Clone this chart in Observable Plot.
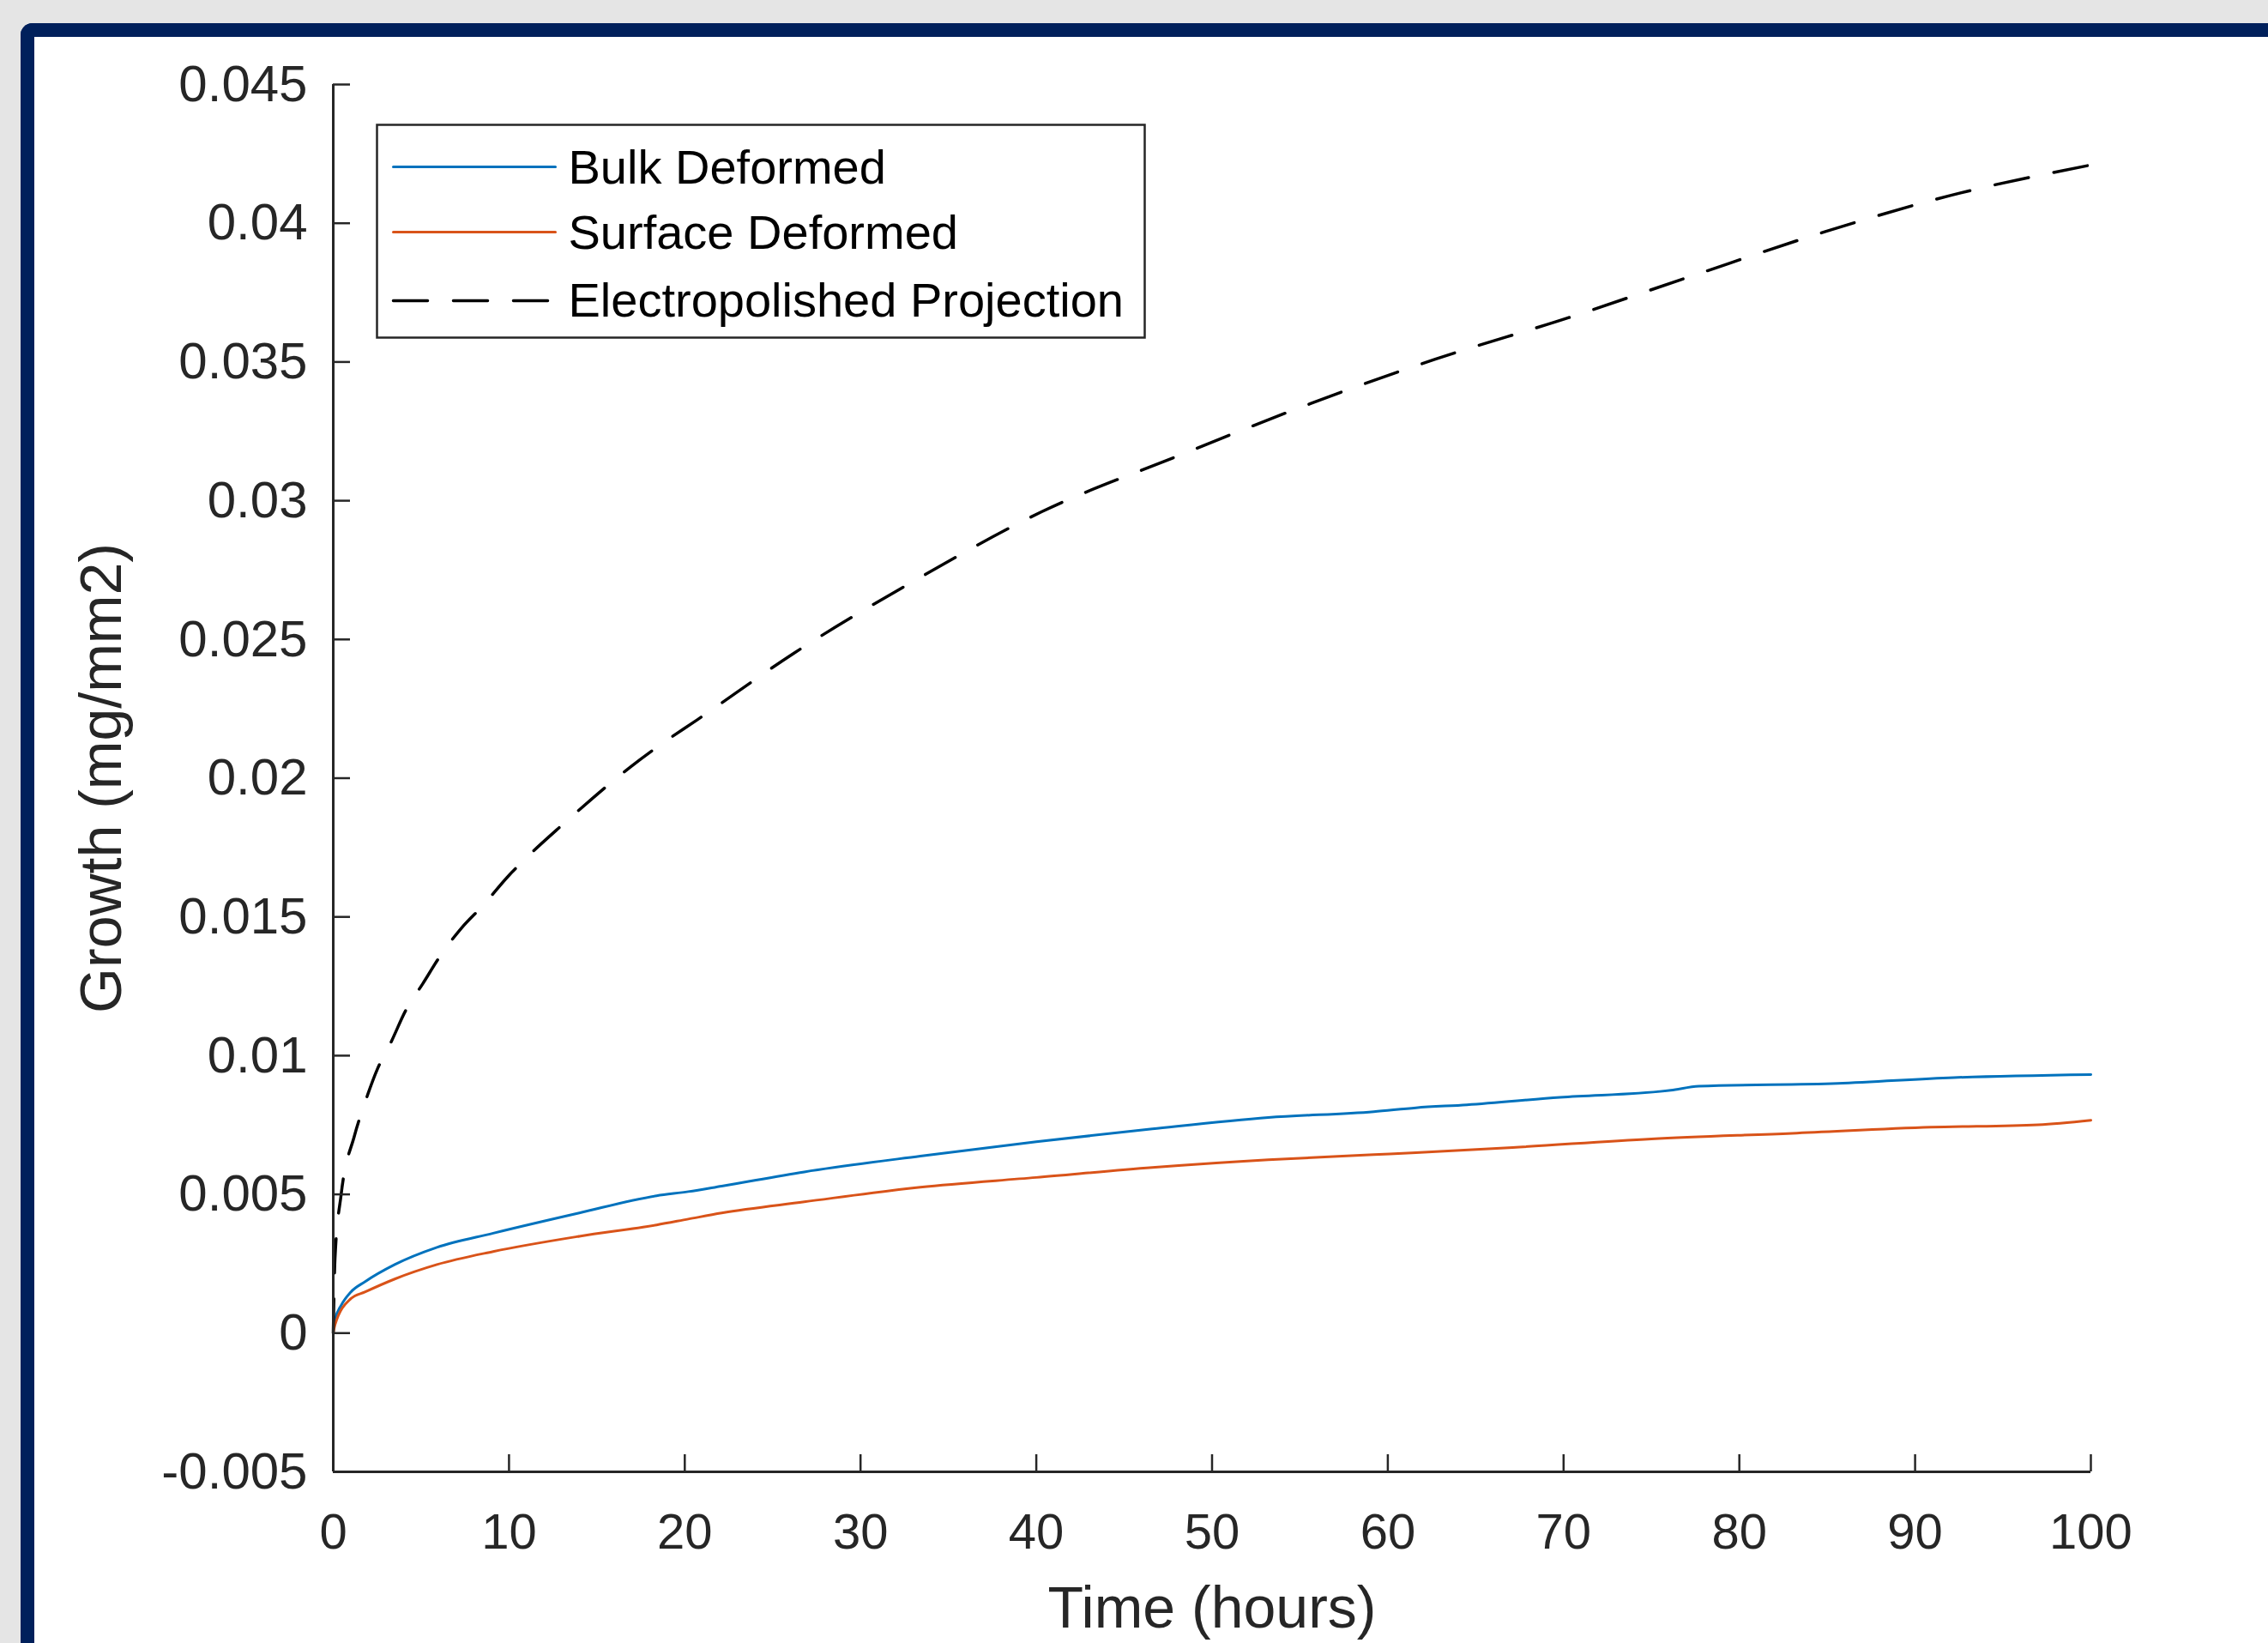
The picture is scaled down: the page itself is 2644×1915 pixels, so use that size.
<!DOCTYPE html>
<html>
<head>
<meta charset="utf-8">
<script src="https://cdn.jsdelivr.net/npm/d3@7"></script>
<script src="https://cdn.jsdelivr.net/npm/@observablehq/plot@0.6"></script>
<style>
html, body { margin: 0; padding: 0; background: #e5e5e5; width: 2644px; height: 1915px; overflow: hidden; }
#frame { position: absolute; left: 24px; top: 27px; width: 2700px; height: 2000px;
  border-left: 16px solid #00205b; border-top: 16px solid #00205b; border-top-left-radius: 14px; background: #fff; }
#chart { position: absolute; left: 40px; top: 43px; }
</style>
</head>
<body>
<div id="frame"></div>
<div id="chart"></div>
<script>
// ---- data ----
const seriesNames = ["Bulk Deformed", "Surface Deformed", "Electropolished Projection"];
const seriesColors = ["#0072BD", "#D95319", "#000000"];
const seriesDash = [null, null, "40,30"];

const bulkTime   = [0, 0.1, 0.45, 1.0, 1.8, 3.5, 5.9, 9.1, 14, 18.4, 20.2, 22.1, 26.8, 33.4, 40, 46.6, 53.2, 59.2, 61.6, 64.5, 69.8, 76.1, 77.7, 85.6, 92.2, 100];
const bulkGrowth = [0.0002, 0.0005, 0.0010, 0.00148, 0.00185, 0.00247, 0.00309, 0.0036, 0.00433, 0.00495, 0.0051, 0.0053, 0.00581, 0.00638, 0.0069, 0.00736, 0.00777, 0.00798, 0.00812, 0.00823, 0.0085, 0.00875, 0.0089, 0.009, 0.00921, 0.00932];

const surfaceTime   = [0, 0.1, 1.0, 1.8, 3.5, 5.9, 9.1, 14, 18.4, 20.2, 22.1, 26.8, 33.4, 40, 46.6, 53.2, 59.2, 61.6, 67.1, 75, 83, 90.9, 97, 100];
const surfaceGrowth = [0, 0.0003, 0.00124, 0.00148, 0.00195, 0.00247, 0.00294, 0.00349, 0.0039, 0.00411, 0.00433, 0.00473, 0.00526, 0.00561, 0.00597, 0.00625, 0.00643, 0.0065, 0.00669, 0.007, 0.0072, 0.00742, 0.00751, 0.00767];

const polishedTime   = [0, 0.1, 0.45, 1.2, 1.8, 2.5, 3.3, 4.1, 5.1, 6.2, 7.3, 8.5, 10, 11.1, 13, 14.8, 16.9, 18.6, 20.7, 26.2, 33.3, 40.3, 48, 55.6, 62.7, 70.3, 77.3, 84.9, 92, 100];
const polishedGrowth = [0, 0.0027, 0.0050, 0.0071, 0.0083, 0.0095, 0.0105, 0.0116, 0.0126, 0.0137, 0.0146, 0.0154, 0.0165, 0.0172, 0.0183, 0.0193, 0.0204, 0.0212, 0.0221, 0.0245, 0.0272, 0.0296, 0.0316, 0.0335, 0.0351, 0.0366, 0.0381, 0.0397, 0.0410, 0.0421];

const xTicks = [0, 10, 20, 30, 40, 50, 60, 70, 80, 90, 100];
const xTickLabels = ["0", "10", "20", "30", "40", "50", "60", "70", "80", "90", "100"];
const yTicks = [-0.005, 0, 0.005, 0.01, 0.015, 0.02, 0.025, 0.03, 0.035, 0.04, 0.045];
const yTickLabels = ["-0.005", "0", "0.005", "0.01", "0.015", "0.02", "0.025", "0.03", "0.035", "0.04", "0.045"];
const xLabel = "Time (hours)";
const yLabel = "Growth (mg/mm2)";

// ---- build tables ----
const toRows = (T, V) => T.map((t, i) => ({t, v: V[i]}));
const seriesData = [toRows(bulkTime, bulkGrowth), toRows(surfaceTime, surfaceGrowth), toRows(polishedTime, polishedGrowth)];

// ---- layout ----
const W = 2604, H = 1872;
const mL = 348, mT = 55, mR = 207, mB = 200;
const plotW = W - mL - mR, plotH = H - mT - mB;
const tickLen = 20;
const ink = "#262626";
const lab = (ticks, labels) => d => { const i = ticks.findIndex(t => Math.abs(t - d) < 1e-9); return i < 0 ? "" : labels[i]; };

const lineShape = { draw(context, l) { context.moveTo(0, 0); context.lineTo(0, -l); } };
const legendLineY = [96, 172, 252];
const legendTextY = [98, 174, 253];

const legendMarks = [
  Plot.frame({fill: "white", stroke: ink, strokeWidth: 2.5,
    insetLeft: 51, insetTop: 47, insetRight: plotW - 946, insetBottom: plotH - 295})
];
seriesNames.forEach((name, i) => {
  legendMarks.push(Plot.vector([name], {frameAnchor: "top-left", dx: 70, dy: legendLineY[i],
    length: 189, rotate: 90, anchor: "start", shape: lineShape,
    stroke: seriesColors[i], strokeWidth: i === 2 ? 3.5 : 3, strokeDasharray: seriesDash[i] ?? undefined}));
  legendMarks.push(Plot.text([name], {frameAnchor: "top-left", dx: 274, dy: legendTextY[i],
    text: d => d, textAnchor: "start", lineAnchor: "middle", fontSize: 56, fill: "#000"}));
});

const chart = Plot.plot({
  width: W, height: H,
  marginLeft: mL, marginTop: mT, marginRight: mR, marginBottom: mB,
  x: {domain: [0, 100], label: null},
  y: {domain: [-0.005, 0.045], label: null},
  style: {background: "transparent", color: ink, fontFamily: '"Liberation Sans", Arial, Helvetica, sans-serif', overflow: "visible"},
  marks: [
    ...seriesData.map((data, i) => Plot.line(data, {x: "t", y: "v", stroke: seriesColors[i],
      strokeWidth: i === 2 ? 3.5 : 3, strokeDasharray: seriesDash[i] ?? undefined, curve: "monotone-x"})),
    Plot.ruleX([0], {stroke: ink, strokeWidth: 3}),
    Plot.ruleY([-0.005], {stroke: ink, strokeWidth: 3}),
    Plot.tickX(xTicks, {x: d => d, stroke: ink, strokeWidth: 2.5, insetTop: plotH - tickLen}),
    Plot.tickY(yTicks, {y: d => d, stroke: ink, strokeWidth: 2.5, insetRight: plotW - tickLen}),
    Plot.axisX({ticks: xTicks, tickSize: 0, tickPadding: 48, fontSize: 58, tickFormat: lab(xTicks, xTickLabels), label: null}),
    Plot.axisY({ticks: yTicks, tickSize: 0, tickPadding: 30, fontSize: 60, tickFormat: lab(yTicks, yTickLabels), label: null}),
    Plot.text([xLabel], {frameAnchor: "bottom", dy: 160, text: d => d, fontSize: 68, textAnchor: "middle", lineAnchor: "middle", fill: ink}),
    Plot.text([yLabel], {frameAnchor: "left", dx: -269, rotate: -90, text: d => d, fontSize: 68, textAnchor: "middle", lineAnchor: "middle", fill: ink}),
    ...legendMarks
  ]
});
document.getElementById("chart").appendChild(chart);
</script>
</body>
</html>
